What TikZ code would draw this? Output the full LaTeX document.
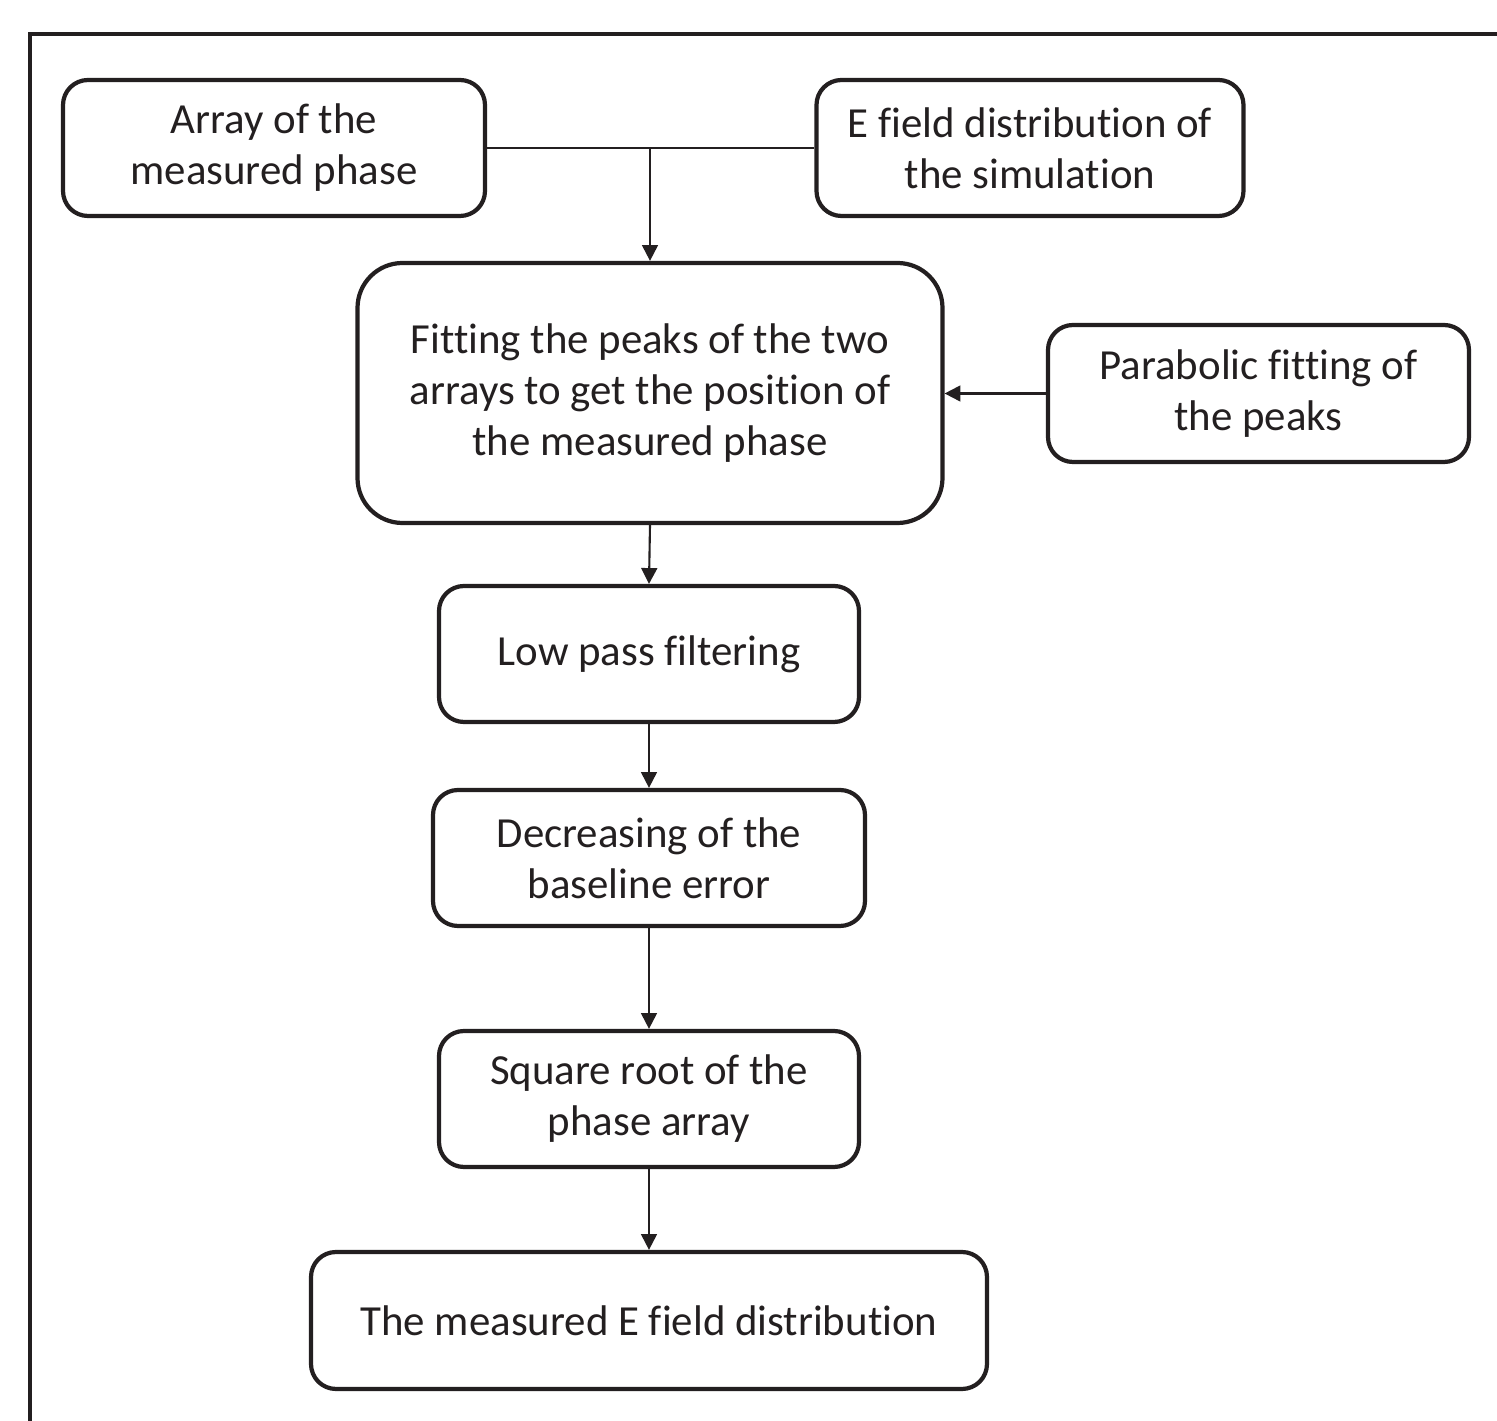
\documentclass[tikz,border=0pt]{standalone}
\usepackage{fontspec}
\setmainfont{Carlito}[Ligatures={NoCommon}]
\definecolor{InkBlack}{RGB}{35, 31, 32}
\usetikzlibrary{arrows.meta, positioning}

\begin{document}
\begin{tikzpicture}[x=1cm, y=1cm, InkBlack]
        \tikzstyle{stepbox} = [rectangle, rounded corners=0.25cm, draw=InkBlack, line width=1.2pt, minimum height=1.36cm, text centered, align=center, inner sep=0pt, text=InkBlack, font=\fontsize{12.2}{14.5}\selectfont]
        \tikzstyle{bigbox} = [stepbox, rounded corners=0.45cm, minimum width=5.85cm, minimum height=2.6cm]
        \tikzstyle{arrow} = [-{Triangle[length=4.5pt, width=4.5pt]}, line width=0.6pt, InkBlack]

        \useasboundingbox (0,0) rectangle (14.97,-14.21);

        % Frame
        \draw [line width=1.4pt] (0.30,-14.6) -- (0.30,-0.34) -- (15.3,-0.34);

        % Nodes
        \node (measured) [stepbox, minimum width=4.22cm] at (2.74,-1.48) {Array of the\\measured phase};
        \node (simul) [stepbox, minimum width=4.27cm] at (10.30,-1.48) {E field distribution of\\the simulation};
        \node (fitting) [bigbox] at (6.50,-3.93) {Fitting the peaks of the two\\arrays to get the position of\\the measured phase};
        \node (parabolic) [stepbox, minimum width=4.21cm, minimum height=1.37cm] at (12.585,-3.935) {Parabolic fitting of\\the peaks};
        \node (lowpass) [stepbox, minimum width=4.20cm] at (6.49,-6.54) {Low pass filtering};
        \node (baseline) [stepbox, minimum width=4.32cm] at (6.49,-8.58) {Decreasing of the\\baseline error};
        \node (sqroot) [stepbox, minimum width=4.20cm] at (6.49,-10.99) {Square root of the\\phase array};
        \node (efield) [stepbox, minimum width=6.76cm, minimum height=1.37cm] at (6.49,-13.205) {The measured E field distribution};

        % Arrows
        \coordinate (join) at (6.50,-1.48);
        \draw [line width=0.6pt] (measured.east) -- (simul.west);
        \draw [arrow] (join) -- (fitting.north);
        \draw [arrow] (parabolic.west) -- (fitting.east |- parabolic.west);
        \draw [arrow] (fitting.south) -- (lowpass.north);
        \draw [arrow] (lowpass.south) -- (baseline.north);
        \draw [arrow] (baseline.south) -- (sqroot.north);
        \draw [arrow] (sqroot.south) -- (efield.north);
    \end{tikzpicture}
\end{document}
